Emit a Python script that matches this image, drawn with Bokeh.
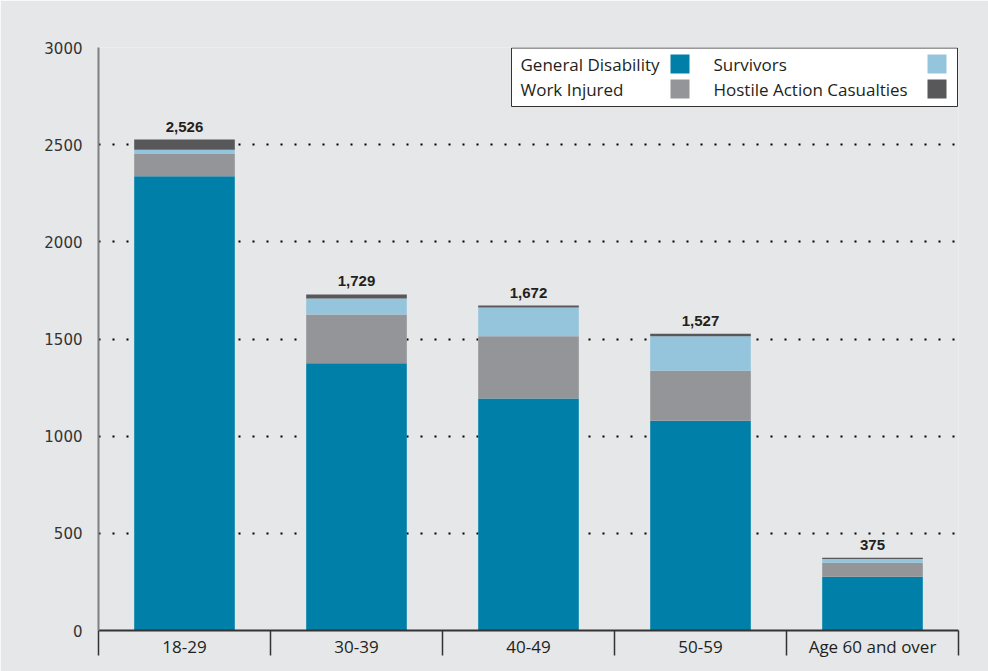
from bokeh.plotting import figure
from bokeh.models import ColumnDataSource, Range1d, LinearAxis, FixedTicker
from bokeh.core.properties import value
from bokeh.embed import file_html
from bokeh.resources import INLINE

# Age groups and recipients per benefit type
age_groups = ["18-29", "30-39", "40-49", "50-59", "Age 60 and over"]
general_disability = [2337, 1375, 1194, 1079, 276]
work_injured = [115, 251, 320, 258, 72]
survivors = [22, 82, 148, 177, 20]
hostile_action = [52, 21, 10, 13, 7]

series_names = ["General Disability", "Work Injured", "Survivors",
                "Hostile Action Casualties"]
series_keys = ["gd", "wi", "sv", "ha"]
series_colors = ["#0080a8", "#939598", "#95c5dc", "#58585a"]

y_ticks = [0, 500, 1000, 1500, 2000, 2500, 3000]

BG = "#e6e7e8"
INK = "#231f20"

totals = [a + b + c + d for a, b, c, d in
          zip(general_disability, work_injured, survivors, hostile_action)]

n = len(age_groups)
centers = [i + 0.5 for i in range(n)]   # one unit slot per age group

source = ColumnDataSource(data=dict(
    x=centers,
    gd=general_disability,
    wi=work_injured,
    sv=survivors,
    ha=hostile_action,
    total=totals,
    label=[f"{t:,}" for t in totals],
))

p = figure(
    width=988, height=671,
    x_range=Range1d(0, n),
    y_range=Range1d(0, y_ticks[-1]),
    x_axis_location=None,
    output_backend="svg", toolbar_location=None,
    min_border_left=98, min_border_right=30,
    min_border_top=47, min_border_bottom=41,
)
p.background_fill_color = BG
p.border_fill_color = BG
p.outline_line_color = None

# Stacked bars
p.vbar_stack(series_keys, x="x", width=0.585, color=series_colors,
             line_color=None, source=source)

# Totals above each bar
p.text(x="x", y="total", text="label", source=source,
       text_align="center", text_baseline="bottom", y_offset=-8,
       text_font=value("Liberation Sans"), text_font_size="15px",
       text_font_style="bold", text_color=INK)

# Y axis
p.yaxis.ticker = FixedTicker(ticks=y_ticks)
p.yaxis.axis_line_color = "#808080"
p.yaxis.axis_line_width = 2
p.yaxis.major_tick_out = 0
p.yaxis.major_tick_in = 0
p.yaxis.minor_tick_line_color = None
p.yaxis.major_label_standoff = 16
p.yaxis.major_label_text_font = "DejaVu Sans"
p.yaxis.major_label_text_font_size = "15px"
p.yaxis.major_label_text_color = "#333333"

# Dotted horizontal grid
p.xgrid.visible = False
p.ygrid.grid_line_color = "black"
p.ygrid.grid_line_dash = "2 12"
p.ygrid.grid_line_width = 1.8

# X axis: labels centred in each group, separators between groups
xaxis = LinearAxis(
    ticker=FixedTicker(ticks=centers, minor_ticks=list(range(n + 1))),
    major_label_overrides={c: g for c, g in zip(centers, age_groups)},
    major_tick_out=0, major_tick_in=0,
    minor_tick_out=25, minor_tick_in=0,
    minor_tick_line_color="#333333", minor_tick_line_width=1.5,
    axis_line_color="#333333", axis_line_width=2,
    major_label_standoff=-21,
    major_label_text_font="Open Sans",
    major_label_text_font_size="17px",
    major_label_text_color=INK,
)
p.add_layout(xaxis, "below")

# Legend box (frame-pixel coordinates), label followed by a swatch
p.extra_x_ranges = {"lx": Range1d(0, 860)}
p.extra_y_ranges = {"ly": Range1d(0, 583)}

p.quad(left=[413], right=[859], bottom=[524], top=[582.5],
       fill_color="white", line_color="#333333", line_width=1,
       x_range_name="lx", y_range_name="ly")

col_text_x = [422, 615]
col_swatch_x = [581.5, 838.5]
row_y = [566.5, 541.5]
leg = dict(tx=[], sx=[], y=[], name=[], color=[])
for i, (name, color) in enumerate(zip(series_names, series_colors)):
    col, row = i // 2, i % 2
    leg["tx"].append(col_text_x[col])
    leg["sx"].append(col_swatch_x[col])
    leg["y"].append(row_y[row])
    leg["name"].append(name)
    leg["color"].append(color)
leg_src = ColumnDataSource(data=leg)

p.text(x="tx", y="y", text="name", source=leg_src,
       text_align="left", text_baseline="middle",
       text_font=value("Open Sans"), text_font_size="17px",
       text_color=INK, x_range_name="lx", y_range_name="ly")
p.rect(x="sx", y="y", width=19, height=19, width_units="screen",
       height_units="screen", fill_color="color", line_color=None,
       source=leg_src, x_range_name="lx", y_range_name="ly")

open("out.html", "w").write(file_html(p, INLINE))
